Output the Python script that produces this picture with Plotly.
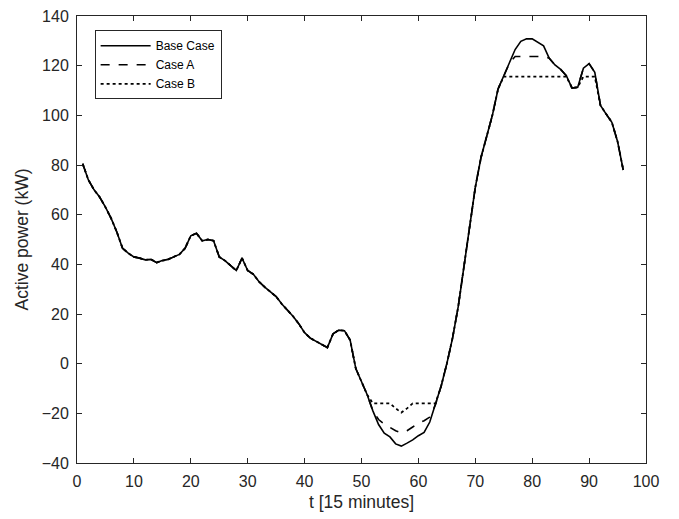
import plotly.graph_objects as go

t = list(range(1, 97))

base_case = [
    80.5, 74, 70, 67, 63, 58.5, 53, 46.5, 44.5, 43,
    42.5, 41.8, 42, 40.7, 41.5, 42, 43, 44, 46.5, 51.5,
    52.5, 49.5, 50, 49.5, 43, 41.5, 39.5, 37.5, 42.5, 37.5,
    36, 33, 30.8, 29, 27, 24, 21.5, 19, 16, 12.5,
    10.3, 9, 8, 6.5, 12, 13.5, 13.3, 9.5, -2, -7.5,
    -12.5, -19, -24.5, -28, -29.5, -32.3, -33.2, -32, -30.7, -29,
    -27.7, -23.5, -16.5, -9, 0, 10.3, 23, 39, 56, 71,
    83, 91.5, 100, 110.6, 115.8, 121, 126.5, 129.8, 130.8, 130.8,
    129.5, 128, 123, 120.3, 118.5, 116, 111, 111.3, 119, 120.8,
    117.3, 104, 100.5, 97.2, 89.5, 78,
]

# Case A: trough raised (t = 53..62) and peak capped (t = 77..82)
case_a_trough_t = [53, 54, 55, 56, 57, 58, 59, 60, 61, 62]
case_a_trough_v = [-22.5, -24.3, -25.5, -27, -27.8, -27, -25.5, -24, -23, -21.5]
case_a_cap_t = [77, 78, 79, 80, 81, 82]
case_a_cap_v = 123.7

# Case B: trough floor (t = 52..63) and peak cap (t = 75..91)
case_b_floor_t = [52, 53, 54, 55, 56, 57, 58, 59, 60, 61, 62, 63]
case_b_floor_v = [-16, -16, -16, -16, -18, -19.7, -18, -16, -16, -16, -16, -16]
case_b_cap_t = list(range(75, 92))
case_b_cap_v = 115.6

case_a = list(base_case)
for ti, v in zip(case_a_trough_t, case_a_trough_v):
    case_a[ti - 1] = v
for ti in case_a_cap_t:
    case_a[ti - 1] = case_a_cap_v

case_b = list(base_case)
for ti, v in zip(case_b_floor_t, case_b_floor_v):
    case_b[ti - 1] = v
for ti in case_b_cap_t:
    case_b[ti - 1] = min(base_case[ti - 1], case_b_cap_v)

x_ticks = [0, 10, 20, 30, 40, 50, 60, 70, 80, 90, 100]
y_ticks = [-40, -20, 0, 20, 40, 60, 80, 100, 120, 140]

FONT = "Liberation Sans, Arial, sans-serif"
AX = "#262626"

fig = go.Figure()
fig.add_trace(go.Scatter(x=t, y=base_case, mode="lines", name="Base Case",
                         line=dict(color="black", width=1.6, dash="solid")))
fig.add_trace(go.Scatter(x=t, y=case_a, mode="lines", name="Case A",
                         line=dict(color="black", width=1.6, dash="dash")))
fig.add_trace(go.Scatter(x=t, y=case_b, mode="lines", name="Case B",
                         line=dict(color="black", width=1.8, dash="dot")))

axis_common = dict(
    showgrid=False, zeroline=False, showline=True, linecolor=AX, linewidth=1,
    mirror="ticks", ticks="inside", ticklen=5, tickwidth=1, tickcolor=AX,
    tickfont=dict(family=FONT, size=16, color=AX),
)

fig.update_layout(
    width=679, height=519,
    margin=dict(l=77, r=33, t=16, b=56, autoexpand=False),
    paper_bgcolor="white", plot_bgcolor="white",
    font=dict(family=FONT, color=AX),
    xaxis=dict(range=[0, 100], tickvals=x_ticks, ticklabelstandoff=4,
               title=dict(text="t [15 minutes]", font=dict(family=FONT, size=17.5, color=AX), standoff=6),
               **axis_common),
    yaxis=dict(range=[-40, 140], tickvals=y_ticks, ticklabelstandoff=4,
               title=dict(text="Active power (kW)", font=dict(family=FONT, size=17.5, color=AX), standoff=8),
               **axis_common),
    legend=dict(x=0.031, y=0.968, xanchor="left", yanchor="top",
                bgcolor="white", bordercolor=AX, borderwidth=1,
                font=dict(family=FONT, size=12, color="black"),
                tracegroupgap=0, itemwidth=50),
    showlegend=True,
)

fig.write_html("out.html")
